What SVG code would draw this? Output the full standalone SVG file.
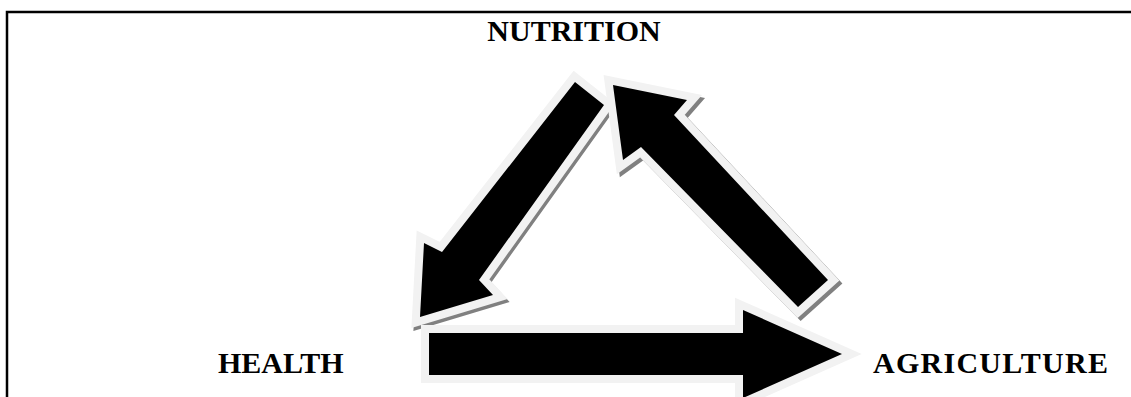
<svg xmlns="http://www.w3.org/2000/svg" width="1131" height="397" viewBox="0 0 1131 397">
  <style>
    .lbl { font-family: "Liberation Serif", "Times New Roman", serif; font-weight: bold; font-size: 30px; fill: #000; }
    .arrow { fill: #000; stroke: #f2f2f2; stroke-width: 16; stroke-linejoin: miter; stroke-miterlimit: 6; paint-order: stroke; }
    .shadow { fill: #808080; stroke: #808080; stroke-width: 16; stroke-linejoin: miter; stroke-miterlimit: 6; }
  </style>
  <rect width="1131" height="397" fill="#fff"/>
  <path d="M7,397 V12 H1131" fill="none" stroke="#000" stroke-width="2.5"/>
  <g id="connectors">
    <g id="nutrition-to-health">
      <path class="shadow" transform="translate(2,3)" d="M575,82 L442,252 L424,243 L420,317 L493,295 L479,280 L604,105 Z"/>
      <path class="arrow" d="M575,82 L442,252 L424,243 L420,317 L493,295 L479,280 L604,105 Z"/>
    </g>
    <g id="agriculture-to-nutrition">
      <path class="shadow" transform="translate(3,3)" d="M613,85 L687,100 L674,115 L828,280 L798,307 L641,147 L623,160 Z"/>
      <path class="arrow" d="M613,85 L687,100 L674,115 L828,280 L798,307 L641,147 L623,160 Z"/>
    </g>
    <g id="health-to-agriculture">
      <path class="arrow" d="M429,333 L743,333 L743,310 L842,354 L743,398 L743,375 L429,375 Z"/>
    </g>
  </g>
  <g id="node-nutrition"><text class="lbl" x="574" y="41" text-anchor="middle">NUTRITION</text></g>
  <g id="node-health"><text class="lbl" x="218" y="373">HEALTH</text></g>
  <g id="node-agriculture"><text class="lbl" x="873" y="373" textLength="235" lengthAdjust="spacing">AGRICULTURE</text></g>
</svg>
